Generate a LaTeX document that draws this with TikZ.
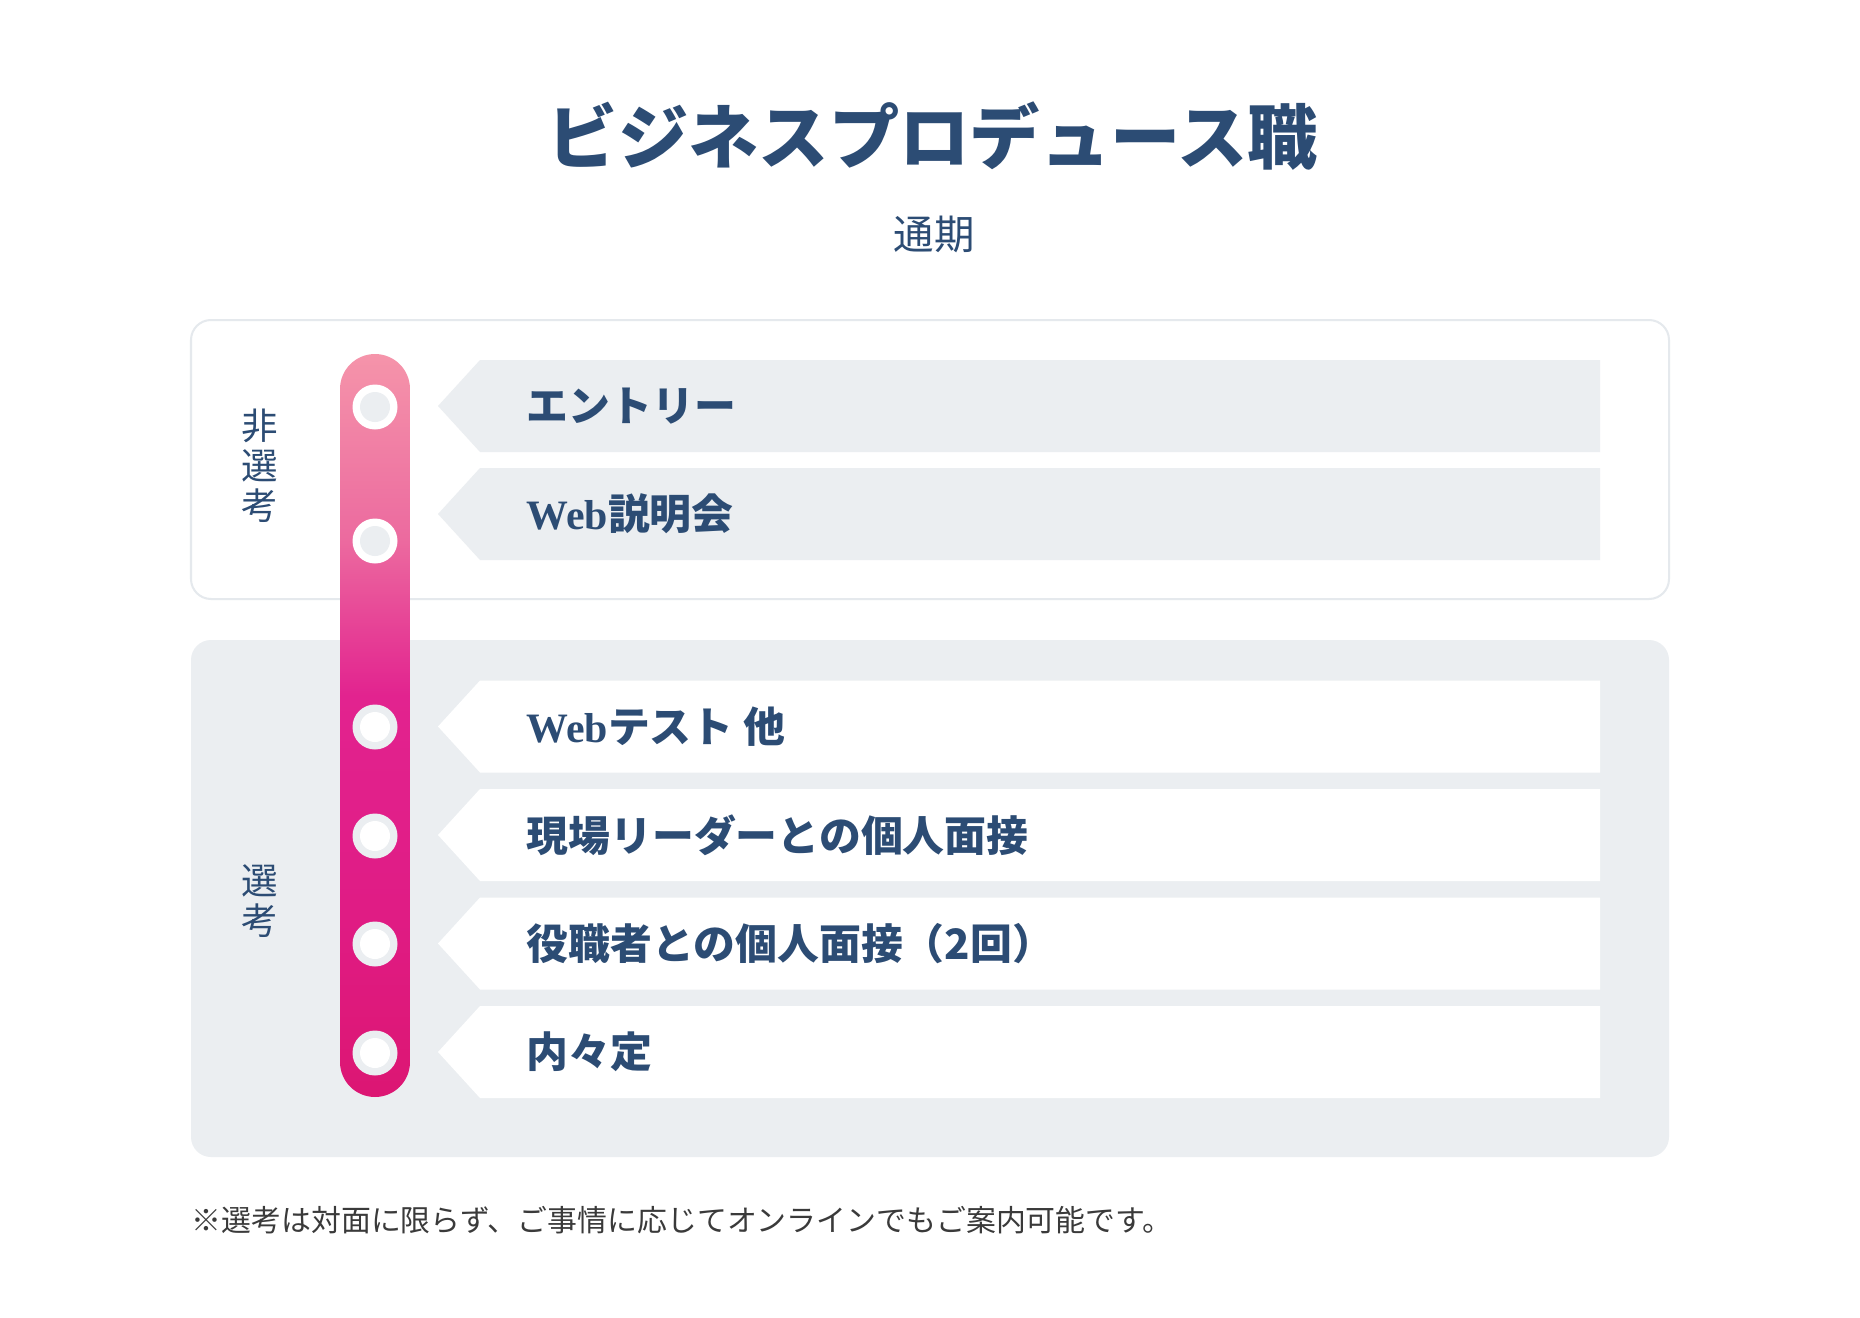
\documentclass[tikz,border=0pt]{standalone}
\usepackage{fontspec}
\setmainfont{Noto Sans CJK JP}
\newfontfamily\webfont{Liberation Serif}
\usepackage{tikz}
\usetikzlibrary{positioning,calc,shapes}
\tikzset{>=stealth}
\definecolor{navy}{HTML}{2C4C74}
\definecolor{bandgray}{HTML}{EBEEF1}
\definecolor{boxline}{HTML}{E5E9ED}
\definecolor{pinktop}{HTML}{F594AA}
\definecolor{pinkup}{HTML}{EC6A9F}
\definecolor{pinkmid}{HTML}{E2238F}
\definecolor{pinklow}{HTML}{E01C85}
\definecolor{pinkbot}{HTML}{DC1673}
\definecolor{notegray}{HTML}{3A3A3A}
\pgfdeclareverticalshading{barfade}{100bp}{color(0bp)=(pinkbot); color(25bp)=(pinkbot); color(38bp)=(pinklow); color(52bp)=(pinkmid); color(62.5bp)=(pinkup); color(75bp)=(pinktop); color(100bp)=(pinktop)}
\newcommand{\web}{{\webfont\bfseries Web}}

\begin{document}
\begin{tikzpicture}[x=0.01cm, y=-0.01cm,
		headline/.style={text=navy, font=\bfseries\fontsize{20pt}{22pt}\selectfont, inner sep=0pt},
		subline/.style={text=navy, font=\fontsize{11.5pt}{13pt}\selectfont, inner sep=0pt},
		sidelabel/.style={text=navy, align=center, font=\fontsize{10.4pt}{11.4pt}\selectfont, inner sep=0pt},
		steptext/.style={text=navy, anchor=west, font=\bfseries\fontsize{11.9pt}{13pt}\selectfont, inner sep=0pt},
		notetext/.style={text=notegray, anchor=west, font=\fontsize{8.5pt}{10pt}\selectfont, inner sep=0pt}]
		\useasboundingbox (0,0) rectangle (1860,1318);
		\fill[white] (0,0) rectangle (1860,1318);

		\node[headline] (title) at (933,136) {ビジネスプロデュース職};
		\node[subline] (period) at (934,234) {通期};

		\draw[boxline, line width=0.57pt, fill=white, rounded corners=0.2cm] (191,320) rectangle (1669,599);
		\fill[bandgray, rounded corners=0.2cm] (191,640) rectangle (1669,1157);

		\node[sidelabel] (nonsel) at (260,466) {非\\選\\考};
		\node[sidelabel] (sel) at (260,901) {選\\考};

		\foreach \yc/\bg in {406/bandgray, 514/bandgray, 726.5/white, 835/white, 943.5/white, 1052/white}
			\fill[\bg] (438,\yc) -- (480,\yc-46) -- (1600,\yc-46) -- (1600,\yc+46) -- (480,\yc+46) -- cycle;

		\shade[shading=barfade, rounded corners=0.35cm] (340,354) rectangle (410,1097);

		\foreach \yc/\ring/\dot in {407/white/bandgray, 541/white/bandgray, 727/bandgray/white, 836/bandgray/white, 944/bandgray/white, 1053/bandgray/white} {
			\fill[\ring] (375,\yc) circle (22.5*0.01cm);
			\fill[\dot] (375,\yc) circle (15*0.01cm);
		}

		\node[steptext] (entry) at (526,406) {エントリー};
		\node[steptext] (seminar) at (526,514) {\web 説明会};
		\node[steptext] (webtest) at (526,726.5) {\web テスト 他};
		\node[steptext] (leader) at (526,835) {現場リーダーとの個人面接};
		\node[steptext] (exec) at (526,943.5) {役職者との個人面接（2回）};
		\node[steptext] (offer) at (526,1052) {内々定};

		\node[notetext] (note) at (191,1220) {※選考は対面に限らず、ご事情に応じてオンラインでもご案内可能です。};
	\end{tikzpicture}
\end{document}
